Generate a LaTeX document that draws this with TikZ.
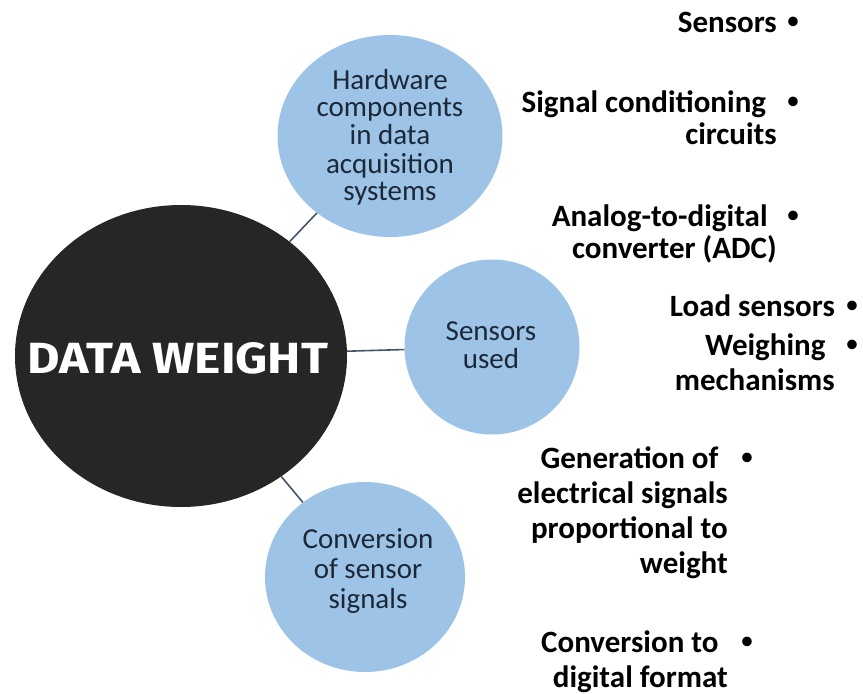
\documentclass[tikz,border=0pt]{standalone}
\usepackage{fontspec}
\usepackage{graphicx}
\setmainfont{Carlito}
\newfontfamily\dwfont{Fira Sans}
\usetikzlibrary{shapes.geometric}
\definecolor{darkc}{HTML}{262626}
\definecolor{bluec}{HTML}{9DC3E6}
\definecolor{linec}{HTML}{44546A}
\definecolor{navyc}{HTML}{1C2838}
\begin{document}
\begin{tikzpicture}[x=1pt,y=-1pt,
  hubshape/.style={ellipse, fill=darkc, draw=none, inner sep=0pt},
  bubble/.style={ellipse, fill=bluec, draw=none, inner sep=0pt},
  conn/.style={draw=linec, line width=1.6pt},
  intext/.style={anchor=base, inner sep=0pt, text=navyc},
  item/.style={anchor=base east, inner sep=0pt, text=black},
  bul/.style={anchor=base, inner sep=0pt, text=black, font=\fontsize{27}{27}\selectfont}]
\useasboundingbox (0,0) rectangle (863,694);
% circles
\node[hubshape, minimum width=332pt, minimum height=302pt] (hub) at (181,356) {};
\node[bubble, minimum width=225pt, minimum height=202pt] (hw) at (390,136) {};
\node[bubble, minimum width=175pt, minimum height=175pt] (sens) at (492,347) {};
\node[bubble, minimum width=200pt, minimum height=190pt] (conv) at (365,577) {};
% connectors
\draw[conn] (hub) -- (hw);
\draw[conn] (hub) -- (sens);
\draw[conn] (hub) -- (conv);
% hub title
\node[anchor=base, inner sep=0pt, text=white] (title) at (178,373)
  {\resizebox{300pt}{31pt}{\dwfont\bfseries DATA WEIGHT}};
% bubble texts
\node[intext, font=\fontsize{29}{27.5}\selectfont] (hwt) at (390,89)
  {\begin{tabular}[t]{@{}c@{}}Hardware\\components\\in data\\acquisition\\systems\end{tabular}};
\node[intext, font=\fontsize{29}{28}\selectfont] (senst) at (491,340)
  {\begin{tabular}[t]{@{}c@{}}Sensors\\used\end{tabular}};
\node[intext, font=\fontsize{29}{30}\selectfont] (convt) at (368,548)
  {\begin{tabular}[t]{@{}c@{}}Conversion\\of sensor\\signals\end{tabular}};
% right-hand items
\node[item, font=\bfseries\fontsize{31}{32}\selectfont] (i1) at (777,32) {Sensors};
\node[bul] (b1) at (793,29) {•};
\node[item, font=\bfseries\fontsize{31}{32}\selectfont] (i2) at (777,112)
  {\begin{tabular}[t]{@{}r@{}}Signal conditioning\kern.35em\\circuits\end{tabular}};
\node[bul] (b2) at (793,109) {•};
\node[item, font=\bfseries\fontsize{31}{32}\selectfont] (i3) at (777,226)
  {\begin{tabular}[t]{@{}r@{}}Analog-to-digital\kern.3em\\converter (ADC)\end{tabular}};
\node[bul] (b3) at (793,223) {•};
\node[item, font=\bfseries\fontsize{31}{35}\selectfont] (i4) at (835,316) {Load sensors};
\node[bul] (b4) at (852,313) {•};
\node[item, font=\bfseries\fontsize{31}{35}\selectfont] (i5) at (835,355)
  {\begin{tabular}[t]{@{}r@{}}Weighing\kern.3em\\mechanisms\end{tabular}};
\node[bul] (b5) at (852,352) {•};
\node[item, font=\bfseries\fontsize{31}{35}\selectfont] (i6) at (728,468)
  {\begin{tabular}[t]{@{}r@{}}Generation of\kern.3em\\electrical signals\\proportional to\\weight\end{tabular}};
\node[bul] (b6) at (747,465) {•};
\node[item, font=\bfseries\fontsize{31}{35}\selectfont] (i7) at (728,652)
  {\begin{tabular}[t]{@{}r@{}}Conversion to\kern.3em\\digital format\end{tabular}};
\node[bul] (b7) at (747,649) {•};
\end{tikzpicture}
\end{document}
